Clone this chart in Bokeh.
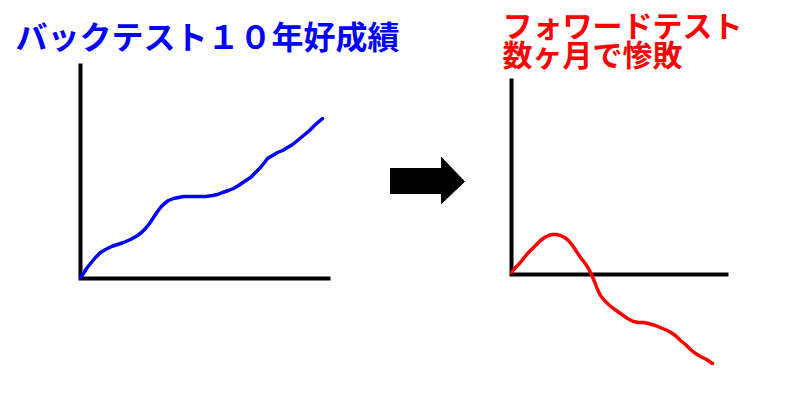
from bokeh.plotting import figure
from bokeh.models import Range1d
from bokeh.core.properties import value
from bokeh.embed import file_html
from bokeh.resources import INLINE

# Page-coordinate data (x right, y down)
backtest_x = [80, 83, 86, 90, 95, 100, 105, 111, 117, 123, 130, 137, 141, 145, 149, 153, 157, 160, 164, 168, 173, 178, 183, 190, 197, 205, 212, 217, 222, 228, 233, 238, 244, 250, 255, 260, 264, 267, 272, 277, 282, 287, 292, 297, 303, 309, 315, 322]
backtest_y = [277, 273, 268, 263, 257, 252, 249, 246, 244, 242, 239, 235, 232, 228, 223, 217, 211, 207, 203, 200, 198, 197, 196, 196, 196, 196, 195, 194, 192, 190, 188, 185, 181, 177, 172, 167, 162, 158, 155, 152, 150, 147, 144, 140, 135, 130, 124, 118]

forward_x = [511, 515, 519, 523, 527, 531, 536, 540, 544, 548, 552, 556, 560, 564, 568, 572, 576, 580, 584, 588, 591, 594, 597, 600, 604, 608, 613, 620, 627, 633, 638, 643, 648, 655, 662, 667, 672, 676, 680, 685, 690, 695, 700, 706, 712]
forward_y = [272, 267, 263, 258, 253, 249, 244, 240, 237, 235, 234, 234, 235, 237, 240, 245, 251, 257, 262, 268, 274, 281, 289, 295, 300, 304, 308, 313, 318, 321, 322, 322, 323, 325, 328, 330, 333, 336, 340, 344, 349, 353, 356, 359, 363]

left_axis_x = [80, 80, 330]
left_axis_y = [63, 278, 278]
right_axis_x = [511, 511, 728]
right_axis_y = [78, 274, 274]

arrow_x = [390, 441, 441, 464, 441, 441, 390]
arrow_y = [168, 168, 157, 181, 203, 193, 193]

title_left = "バックテスト１０年好成績"
title_right_1 = "フォワードテスト"
title_right_2 = "数ヶ月で惨敗"

p = figure(width=784, height=384, output_backend="svg", toolbar_location=None,
           x_range=Range1d(0, 784), y_range=Range1d(384, 0), min_border=0)
p.axis.visible = False
p.grid.visible = False
p.outline_line_color = None
p.background_fill_color = "white"
p.border_fill_color = "white"

p.line(left_axis_x, left_axis_y, line_color="black", line_width=4, line_join="miter")
p.line(right_axis_x, right_axis_y, line_color="black", line_width=4, line_join="miter")

p.line(backtest_x, backtest_y, line_color="#0000ff", line_width=3.5, line_join="round", line_cap="round")
p.line(forward_x, forward_y, line_color="#ff0000", line_width=3.5, line_join="round", line_cap="round")

p.patch(arrow_x, arrow_y, fill_color="black", line_color="black", line_width=1)

font = value("Noto Sans CJK JP")
p.text(x=[15], y=[34], text=[title_left], text_font=font, text_font_style="bold",
       text_font_size="32px", text_color="#0000ff", text_baseline="middle", text_align="left")
p.text(x=[502], y=[23], text=[title_right_1], text_font=font, text_font_style="bold",
       text_font_size="30px", text_color="#ff0000", text_baseline="middle", text_align="left")
p.text(x=[502], y=[52], text=[title_right_2], text_font=font, text_font_style="bold",
       text_font_size="30px", text_color="#ff0000", text_baseline="middle", text_align="left")

open("out.html", "w").write(file_html(p, INLINE))
